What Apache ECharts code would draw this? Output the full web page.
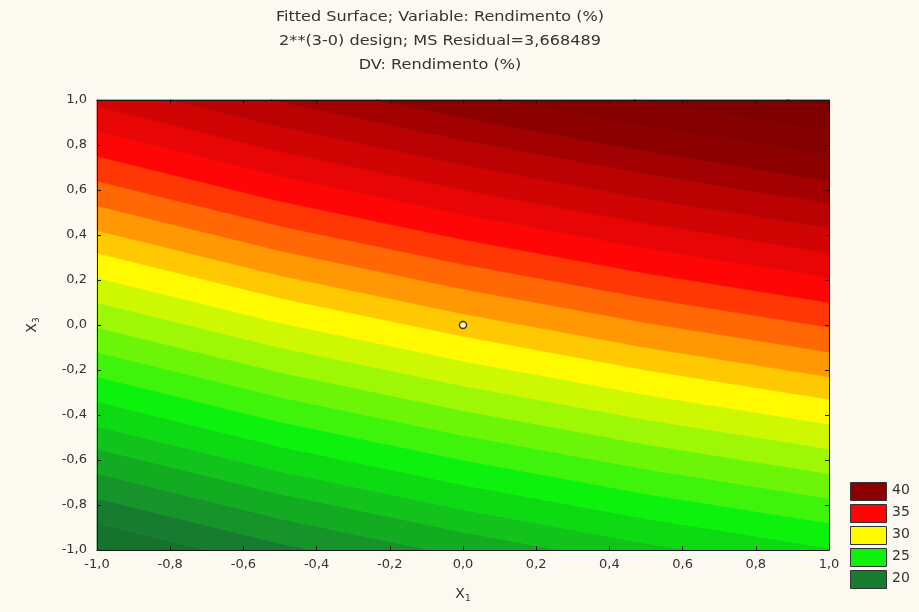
<!DOCTYPE html>
<html>
<head>
<meta charset="utf-8">
<script src="https://cdn.jsdelivr.net/npm/echarts/dist/echarts.min.js"></script>
<style>
html,body{margin:0;padding:0;background:#fcf9f1;}
#chart{width:919px;height:612px;}
</style>
</head>
<body>
<div id="chart"></div>
<script>
// ---- Data ----
const titleLines = [
  'Fitted Surface; Variable: Rendimento (%)',
  '2**(3-0) design; MS Residual=3,668489',
  'DV: Rendimento (%)'
];
// contour levels (boundaries between colour bands) of the fitted surface
const contourLevels = [18.5,19.5,20.5,21.5,22.5,23.5,24.5,25.5,26.5,27.5,28.5,29.5,30.5,31.5,32.5,33.5,34.5,35.5,36.5,37.5,38.5,39.5,40.5,41.5,42.5];
// X1 positions where each contour line was read
const lineX1 = [-1, -0.5, 0, 0.5, 1];
// X3 position of each contour line at X1 = -1, -0.5, 0, +0.5, +1
const x3AtLeft      = [-0.99,-0.88,-0.77,-0.66,-0.55,-0.45,-0.34,-0.23,-0.12,-0.01,0.10,0.21,0.32,0.42,0.53,0.64,0.75,0.86,0.97,1.08,1.19,1.29,1.40,1.51,1.62];
const x3AtMinusHalf = [-1.19,-1.08,-0.97,-0.86,-0.75,-0.65,-0.54,-0.43,-0.32,-0.21,-0.10,0.01,0.12,0.22,0.33,0.44,0.55,0.66,0.77,0.88,0.99,1.09,1.20,1.31,1.42];
const x3AtCenter    = [-1.36,-1.25,-1.14,-1.03,-0.92,-0.82,-0.71,-0.60,-0.49,-0.38,-0.27,-0.16,-0.05,0.05,0.16,0.27,0.38,0.49,0.60,0.71,0.82,0.92,1.03,1.14,1.25];
const x3AtPlusHalf  = [-1.51,-1.40,-1.29,-1.18,-1.07,-0.97,-0.86,-0.75,-0.64,-0.53,-0.42,-0.31,-0.20,-0.10,0.01,0.12,0.23,0.34,0.45,0.56,0.67,0.77,0.88,0.99,1.10];
const x3AtRight     = [-1.64,-1.53,-1.42,-1.31,-1.20,-1.10,-0.99,-0.88,-0.77,-0.66,-0.55,-0.44,-0.33,-0.23,-0.12,-0.01,0.10,0.21,0.32,0.43,0.54,0.64,0.75,0.86,0.97];
// legend values
const legendValues = [40, 35, 30, 25, 20];
// design centre point
const centerPoint = [[0, 0]];
// axis ranges
const axisMin = -1, axisMax = 1, axisStep = 0.2;

// ---- Colour scale (style) ----
const colorStops = [
  [17, [18, 96, 40]],
  [20, [24, 124, 48]],
  [25, [12, 242, 12]],
  [30, [255, 250, 0]],
  [35, [255, 6, 6]],
  [40, [140, 0, 0]],
  [43, [120, 0, 0]]
];
function colorFor(z) {
  if (z <= colorStops[0][0]) return rgb(colorStops[0][1]);
  for (let i = 1; i < colorStops.length; i++) {
    if (z <= colorStops[i][0]) {
      const a = colorStops[i-1], b = colorStops[i];
      const t = (z - a[0]) / (b[0] - a[0]);
      return rgb(a[1].map((v, k) => v + (b[1][k] - v) * t));
    }
  }
  return rgb(colorStops[colorStops.length-1][1]);
}
function rgb(c) { return 'rgb(' + c.map(v => Math.round(v)).join(',') + ')'; }

// band i lies between contour line i-1 (below) and line i (above)
const lines = contourLevels.map((lv, i) => [x3AtLeft[i], x3AtMinusHalf[i], x3AtCenter[i], x3AtPlusHalf[i], x3AtRight[i]]);
const bandData = [];
for (let i = 0; i <= contourLevels.length; i++) {
  const z = i < contourLevels.length ? contourLevels[i] - 0.5 : contourLevels[i-1] + 0.5;
  bandData.push([i, z]);
}

function clipHalf(poly, inside, intersect) {
  const out = [];
  for (let i = 0; i < poly.length; i++) {
    const cur = poly[i], prev = poly[(i + poly.length - 1) % poly.length];
    const ci = inside(cur), pi = inside(prev);
    if (ci) {
      if (!pi) out.push(intersect(prev, cur));
      out.push(cur);
    } else if (pi) {
      out.push(intersect(prev, cur));
    }
  }
  return out;
}
function clipY(poly, yLim, keepBelow) {
  return clipHalf(poly,
    p => keepBelow ? p[1] <= yLim : p[1] >= yLim,
    (a, b) => { const t = (yLim - a[1]) / (b[1] - a[1]); return [a[0] + (b[0]-a[0])*t, yLim]; });
}

function renderBand(params, api) {
  const i = api.value(0);
  const n = lineX1.length;
  const lo = i === 0 ? lineX1.map(() => -5) : lines[i-1];
  const up = i === lines.length ? lineX1.map(() => 5) : lines[i];
  let poly = [];
  for (let k = 0; k < n; k++) poly.push([lineX1[k], lo[k]]);
  for (let k = n - 1; k >= 0; k--) poly.push([lineX1[k], up[k]]);
  poly = clipY(poly, axisMin, false);
  poly = clipY(poly, axisMax, true);
  if (poly.length < 3) return null;
  const pts = poly.map(p => api.coord(p));
  const col = colorFor(api.value(1));
  return {
    type: 'polygon',
    shape: { points: pts },
    style: { fill: col, stroke: col, lineWidth: 0.8 }
  };
}

function fmt(v) {
  if (Math.abs(v) < 1e-9) return '0,0';
  return v.toFixed(1).replace('.', ',');
}

const axisColor = '#151515';
const labelStyle = { color: '#333', fontSize: 13, fontFamily: 'DejaVu Sans' };

const chart = echarts.init(document.getElementById('chart'), null, { renderer: 'canvas' });

const graphics = [];
titleLines.forEach((t, i) => {
  graphics.push({
    type: 'text', x: 440, y: 17 + i * 24, scaleX: 1.15, scaleY: 1,
    z: 10,
    style: { text: t, fill: '#333', font: '14px "DejaVu Sans"',
      align: 'center', verticalAlign: 'middle', textAlign: 'center', textVerticalAlign: 'middle' }
  });
});
legendValues.forEach((v, i) => {
  graphics.push({
    type: 'rect', left: 850, top: 482 + i * 22,
    shape: { width: 36, height: 18 },
    style: { fill: colorFor(v), stroke: '#333', lineWidth: 1 }
  });
  graphics.push({
    type: 'text', left: 892, top: 483 + i * 22,
    style: { text: String(v), fill: '#333', font: '14px "DejaVu Sans"' }
  });
});

function axisCommon(extra) {
  return Object.assign({
    type: 'value', min: axisMin, max: axisMax, interval: axisStep, z: 10,
    axisLine: { show: true, onZero: false, lineStyle: { color: axisColor, width: 1 } },
    axisTick: { show: true, inside: true, length: 4, lineStyle: { color: axisColor } },
    splitLine: { show: false }
  }, extra);
}

chart.setOption({
  backgroundColor: '#fcf9f1',
  animation: false,
  grid: { left: 97, right: 90, top: 100, bottom: 62, containLabel: false },
  graphic: graphics,
  xAxis: [
    axisCommon({
      position: 'bottom',
      name: 'X{s|1}', nameLocation: 'middle', nameGap: 36,
      nameTextStyle: { color: '#333', fontSize: 14, fontFamily: 'DejaVu Sans',
        rich: { s: { fontSize: 9, verticalAlign: 'bottom', padding: [8, 0, 0, 0], color: '#333' } } },
      axisLabel: Object.assign({ formatter: fmt, margin: 8 }, labelStyle)
    }),
    axisCommon({ position: 'top', axisLabel: { show: false } })
  ],
  yAxis: [
    axisCommon({
      position: 'left',
      name: 'X{s|3}', nameLocation: 'middle', nameGap: 56, nameRotate: 90,
      nameTextStyle: { color: '#333', fontSize: 14, fontFamily: 'DejaVu Sans',
        rich: { s: { fontSize: 9, verticalAlign: 'bottom', padding: [8, 0, 0, 0], color: '#333' } } },
      axisLabel: Object.assign({ formatter: fmt, margin: 10 }, labelStyle)
    }),
    axisCommon({ position: 'right', axisLabel: { show: false } })
  ],
  series: [{
    type: 'custom',
    xAxisIndex: 0, yAxisIndex: 0,
    renderItem: renderBand,
    data: bandData,
    encode: { x: -1, y: -1 },
    silent: true,
    z: 1
  }, {
    type: 'scatter',
    xAxisIndex: 0, yAxisIndex: 0,
    data: centerPoint,
    symbol: 'circle', symbolSize: 7,
    itemStyle: { color: '#ffffff', borderColor: '#111', borderWidth: 1.5 },
    silent: true,
    z: 12
  }]
});
</script>
</body>
</html>
